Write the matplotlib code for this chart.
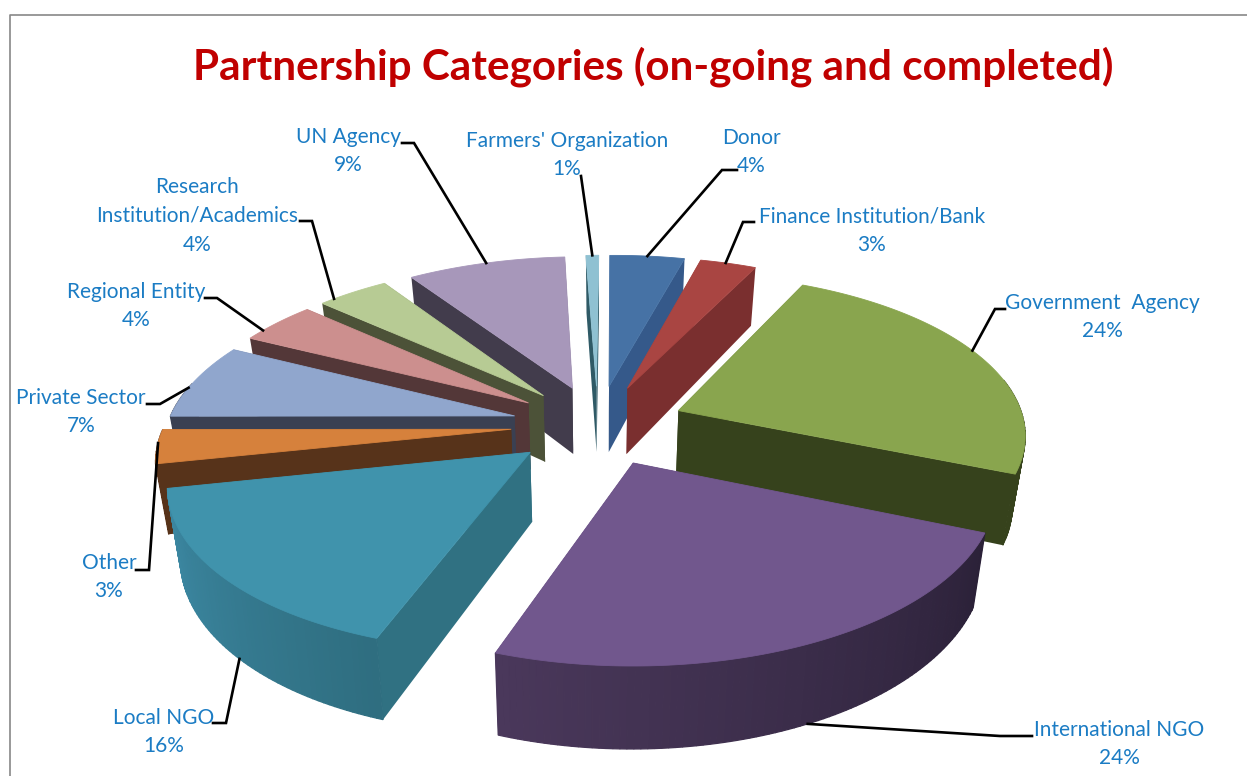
import numpy as np
import matplotlib
matplotlib.use("Agg")
import matplotlib.pyplot as plt
from matplotlib.colors import to_rgb
from matplotlib.patches import Polygon

# data, clockwise from the top; shares estimated from the slices, labels show them rounded
categories = ["Donor", "Finance Institution/Bank", "Government  Agency", "International NGO",
              "Local NGO", "Other", "Private Sector", "Regional Entity",
              "Research\nInstitution/Academics", "UN Agency", "Farmers' Organization"]
shares = [4.1, 3.1, 24.4, 24.1, 16.4, 3.3, 7.4, 4.2, 3.9, 8.6, 0.7]

top_colors = ["#4672a5", "#a94542", "#89a54e", "#71578d", "#4093ac", "#d6813c",
              "#90a6cd", "#cc8f8e", "#b7cb94", "#a797ba", "#8fc1d2"]
rim_start = ["#35598a", "#7a2f2f", "#36421c", "#2b2138", "#2f6e80", "#57331a",
             "#3a4052", "#533738", "#4c5238", "#423c4c", "#5f8b98"]
rim_end = ["#35598a", "#7a2f2f", "#36421c", "#4a385b", "#3d8aa5", "#57331a",
           "#3a4052", "#533738", "#4c5238", "#423c4c", "#5f8b98"]
cut_colors = ["#35598a", "#7a2f2f", "#36421c", "#3a2b4b", "#307182", "#57331a",
              "#3a4052", "#533738", "#4c5238", "#423c4c", "#2f5a66"]

# label placement in pixels: text centre, elbow of the leader, end of its stub next to the text
label_xy = [(751, 152), (872, 231), (1102, 317), (1119, 744), (164, 732), (109, 577),
            (81, 412), (136, 306), (197, 216), (348, 151), (567, 155)]
elbow_xy = [(722, 170), (743, 222), (995, 309), (1000, 736), (226, 723), (149, 570),
            (160, 404), (217, 298), (312, 221), (414, 143), (581, 176)]
stub_x = [737, 754, 1005, 1032, 213, 136, 147, 205, 300, 402, 581]
# where on the wall (0 top, 1 bottom) and which fraction of the slice the leader lands on
anchor_z = [0, 0, 0, 1, 1, 0, 0, 0, 0, 0, 0]
anchor_frac = [0.5, 0.45, 0.47, 0.48, 0.47, 0.6, 0.4, 0.25, 0.2, 0.5, 0.5]

CX, CY = 598, 425
RX, RY = 347, 160.8
DEPTH = 6.8
HEIGHT = 68
EXPLODE = 0.25
SKEW = 7
TAPER = 0.03
START = np.radians(-1)


def project(x, y, z):
    f = DEPTH / (DEPTH + y)
    return CX + RX * x * f * (1 - TAPER * z) + SKEW * y, CY - RY * y * f + HEIGHT * z * f


def rim_point(a, ox, oy, z=0.0):
    return project(ox + np.sin(a), oy + np.cos(a), z)


def mix(c1, c2, t):
    return tuple((1 - t) * a + t * b for a, b in zip(to_rgb(c1), to_rgb(c2)))


fig = plt.figure(figsize=(12.47, 7.76), dpi=100)
ax = fig.add_axes([0, 0, 1, 1])
ax.set_xlim(0, 1247)
ax.set_ylim(776, 0)
ax.axis("off")

edges = START + 2 * np.pi * np.concatenate([[0], np.cumsum(shares)]) / sum(shares)
slices = []
for i in range(len(shares)):
    a0, a1 = edges[i], edges[i + 1]
    mid = (a0 + a1) / 2
    slices.append((i, a0, a1, EXPLODE * np.sin(mid), EXPLODE * np.cos(mid), mid))

# back to front
order = sorted(slices, key=lambda s: -(s[4] + 0.5 * np.cos(s[5])))
for i, a0, a1, ox, oy, mid in order:
    aa = np.linspace(a0, a1, max(4, int((a1 - a0) * 60)))
    faces = []
    for a in (a0, a1):
        pts = [project(ox, oy, 0), rim_point(a, ox, oy, 0), rim_point(a, ox, oy, 1), project(ox, oy, 1)]
        faces.append((oy + 0.5 * np.cos(a), pts, cut_colors[i], 0))
    for j in range(len(aa) - 1):
        # the back of the rim is hidden by the top
        if np.cos(aa[j]) > 0.2 and np.cos(aa[j + 1]) > 0.2:
            continue
        pts = [rim_point(aa[j], ox, oy, 0), rim_point(aa[j + 1], ox, oy, 0),
               rim_point(aa[j + 1], ox, oy, 1), rim_point(aa[j], ox, oy, 1)]
        t = j / max(1, len(aa) - 2)
        faces.append((oy + np.cos(aa[j]), pts, mix(rim_start[i], rim_end[i], t), 0.9))
    for _, pts, col, lw in sorted(faces, key=lambda q: -q[0]):
        ax.add_patch(Polygon(pts, closed=True, fc=col, ec=col, lw=lw))
    top = [project(ox, oy, 0)] + [rim_point(a, ox, oy, 0) for a in aa]
    ax.add_patch(Polygon(top, closed=True, fc=top_colors[i], ec=top_colors[i], lw=0.6))

# leaders and labels
for s in slices:
    i, a0, a1, ox, oy, mid = s
    a = a0 + anchor_frac[i] * (a1 - a0)
    end_x, end_y = rim_point(a, ox, oy, anchor_z[i])
    ex, ey = elbow_xy[i]
    ax.plot([stub_x[i], ex, end_x], [ey, ey, end_y], color="black", lw=1.9, solid_joinstyle="miter", zorder=5)
    ax.text(label_xy[i][0], label_xy[i][1], f"{categories[i]}\n{round(shares[i])}%", ha="center", va="center",
            family="Lato", fontsize=15, color="#1b7cc4", linespacing=1.55, zorder=6)

ax.text(653, 67, "Partnership Categories (on-going and completed)", ha="center", va="center",
        family="Lato", fontweight="bold", fontsize=30.4, color="#c00000")

# chart frame, cut off at the picture edge
ax.plot([10, 10, 1247], [776, 15, 15], color="#888888", lw=1.2)

fig.savefig("out.png", dpi=100)
